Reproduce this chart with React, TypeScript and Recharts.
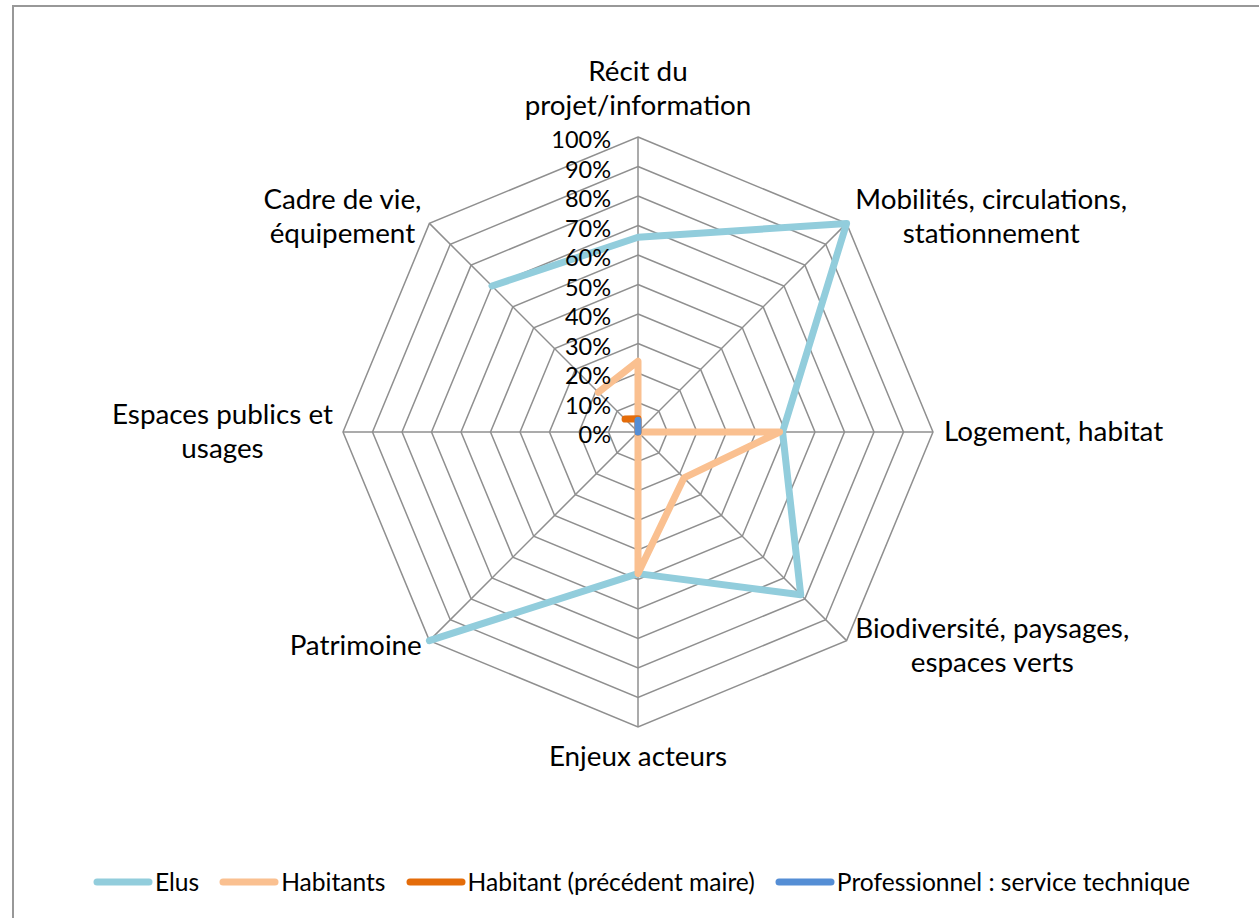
import React from 'react';
import {
  RadarChart,
  Radar,
  PolarGrid,
  PolarAngleAxis,
  PolarRadiusAxis,
  Legend,
} from 'recharts';

const categories = [
  'Récit du projet/information',
  'Mobilités, circulations, stationnement',
  'Logement, habitat',
  'Biodiversité, paysages, espaces verts',
  'Enjeux acteurs',
  'Patrimoine',
  'Espaces publics et usages',
  'Cadre de vie, équipement',
];

const categoryLines = [
  ['Récit du', 'projet/information'],
  ['Mobilités, circulations,', 'stationnement'],
  ['Logement, habitat'],
  ['Biodiversité, paysages,', 'espaces verts'],
  ['Enjeux acteurs'],
  ['Patrimoine'],
  ['Espaces publics et', 'usages'],
  ['Cadre de vie,', 'équipement'],
];

// values in %, null = no value (line is broken there)
const elus = [66, 100, 49, 78, 48, 100, null, 70];
const habitants = [24, 0, 48, 22, 48, 0, null, 19];
const ancienMaire = [4.5, 0, 0, 0, 0, 0, null, 6.2];
const professionnel = [4, 0, 0, 0, 0, 0, 0, 0];

const radiusTicks = [0, 10, 20, 30, 40, 50, 60, 70, 80, 90, 100];

const seriesNames = [
  'Elus',
  'Habitants',
  'Habitant (précédent maire)',
  'Professionnel : service technique',
];
const seriesColors = ['#92CDDC', '#FAC090', '#E46C0A', '#558ED5'];

const data = categories.map((c, i) => ({
  category: c,
  elus: elus[i],
  habitants: habitants[i],
  ancienMaire: ancienMaire[i],
  professionnel: professionnel[i],
}));

const FONT = 'Lato, "Open Sans", sans-serif';
const CAT_SIZE = 27.8;
const CX = 624;
const CY = 427;

let ctx: CanvasRenderingContext2D | null = null;
function textWidth(s: string, size: number) {
  if (!ctx) ctx = document.createElement('canvas').getContext('2d');
  if (!ctx) return s.length * size * 0.5;
  ctx.font = `${size}px ${FONT}`;
  return ctx.measureText(s).width;
}

function AngleTick(props: any) {
  const { x, y, payload } = props;
  const idx = categories.indexOf(payload.value);
  const lines = categoryLines[idx] || [payload.value];
  const dx = x - CX;
  const dy = y - CY;
  const lh = 34;
  const n = lines.length;
  const blockW = Math.max(...lines.map((l) => textWidth(l, CAT_SIZE)));
  let tx = x;
  const ys: number[] = [];
  if (Math.abs(dx) < 1) {
    for (let i = 0; i < n; i++) {
      ys.push(dy < 0 ? y - 25 - (n - 1 - i) * lh : y + 20 + i * lh);
    }
  } else {
    tx = dx > 0 ? x + 3 + blockW / 2 : x - 2 - blockW / 2;
    for (let i = 0; i < n; i++) ys.push(y + (i - (n - 1) / 2) * lh - 2);
  }
  return (
    <g>
      {lines.map((l, i) => (
        <text
          key={i}
          x={tx}
          y={ys[i]}
          textAnchor="middle"
          dominantBaseline="central"
          fontSize={CAT_SIZE}
          fontFamily={FONT}
          fill="#000"
        >
          {l}
        </text>
      ))}
    </g>
  );
}

function RadiusTick(props: any) {
  const { x, y, payload } = props;
  return (
    <text
      x={x - 27}
      y={y + 2}
      textAnchor="end"
      dominantBaseline="central"
      fontSize={23.5}
      fontFamily={FONT}
      fill="#000"
    >
      {payload.value}%
    </text>
  );
}

// draws the series as a closed line, broken where a value is missing
function BrokenPolygon(props: any) {
  const { points, dataKey, stroke, strokeWidth } = props;
  const pts = points as any[];
  const n = pts.length;
  const ok = pts.map((p) => p.payload && p.payload[dataKey] != null);
  let d = '';
  if (ok.every(Boolean)) {
    d = pts.map((p, i) => `${i === 0 ? 'M' : 'L'}${p.x},${p.y}`).join('') + 'Z';
  } else {
    const start = ok.indexOf(false);
    let pen = false;
    for (let k = 1; k <= n; k++) {
      const i = (start + k) % n;
      if (!ok[i]) {
        pen = false;
        continue;
      }
      d += `${pen ? 'L' : 'M'}${pts[i].x},${pts[i].y}`;
      pen = true;
    }
  }
  return (
    <path
      d={d}
      fill="none"
      stroke={stroke}
      strokeWidth={strokeWidth}
      strokeLinejoin="round"
      strokeLinecap="round"
    />
  );
}

function LegendContent() {
  return (
    <div
      style={{
        display: 'flex',
        justifyContent: 'center',
        alignItems: 'center',
        fontFamily: FONT,
        fontSize: 24.6,
        color: '#000',
      }}
    >
      {seriesNames.map((name, i) => (
        <div key={name} style={{ display: 'flex', alignItems: 'center', marginRight: i < 3 ? 20 : 0 }}>
          <svg width={60} height={10} style={{ marginRight: 2 }}>
            <line x1={4} y1={5} x2={56} y2={5} stroke={seriesColors[i]} strokeWidth={7} strokeLinecap="round" />
          </svg>
          <span>{name}</span>
        </div>
      ))}
    </div>
  );
}

export default function App() {
  const keys = ['elus', 'habitants', 'ancienMaire', 'professionnel'];
  return (
    <div style={{ position: 'absolute', left: 0, top: 0, width: 1259, height: 918, background: '#fff', overflow: 'hidden' }}>
      <div
        style={{
          position: 'absolute',
          left: 12,
          top: 5,
          width: 1280,
          height: 940,
          border: '2px solid #989898',
          boxSizing: 'border-box',
        }}
      />
      <div style={{ position: 'absolute', left: 14, top: 5 }}>
        <RadarChart width={1259} height={910} data={data} cx={CX} cy={CY} outerRadius={295} startAngle={90} endAngle={-270}>
          <PolarGrid gridType="polygon" stroke="#8f8f8f" strokeWidth={1.5} />
          <PolarAngleAxis dataKey="category" tick={<AngleTick />} tickLine={false} axisLine={false} />
          <PolarRadiusAxis
            angle={90}
            domain={[0, 100]}
            ticks={radiusTicks}
            tick={<RadiusTick />}
            axisLine={false}
            tickLine={false}
          />
          {keys.map((k, i) => (
            <Radar
              key={k}
              name={seriesNames[i]}
              dataKey={k}
              stroke={seriesColors[i]}
              strokeWidth={7}
              fill="none"
              fillOpacity={0}
              dot={false}
              shape={(p: any) => <BrokenPolygon {...p} dataKey={k} />}
              isAnimationActive={false}
            />
          ))}
          <Legend content={<LegendContent />} wrapperStyle={{ top: 862, left: -2, width: 1259 }} />
        </RadarChart>
      </div>
    </div>
  );
}
